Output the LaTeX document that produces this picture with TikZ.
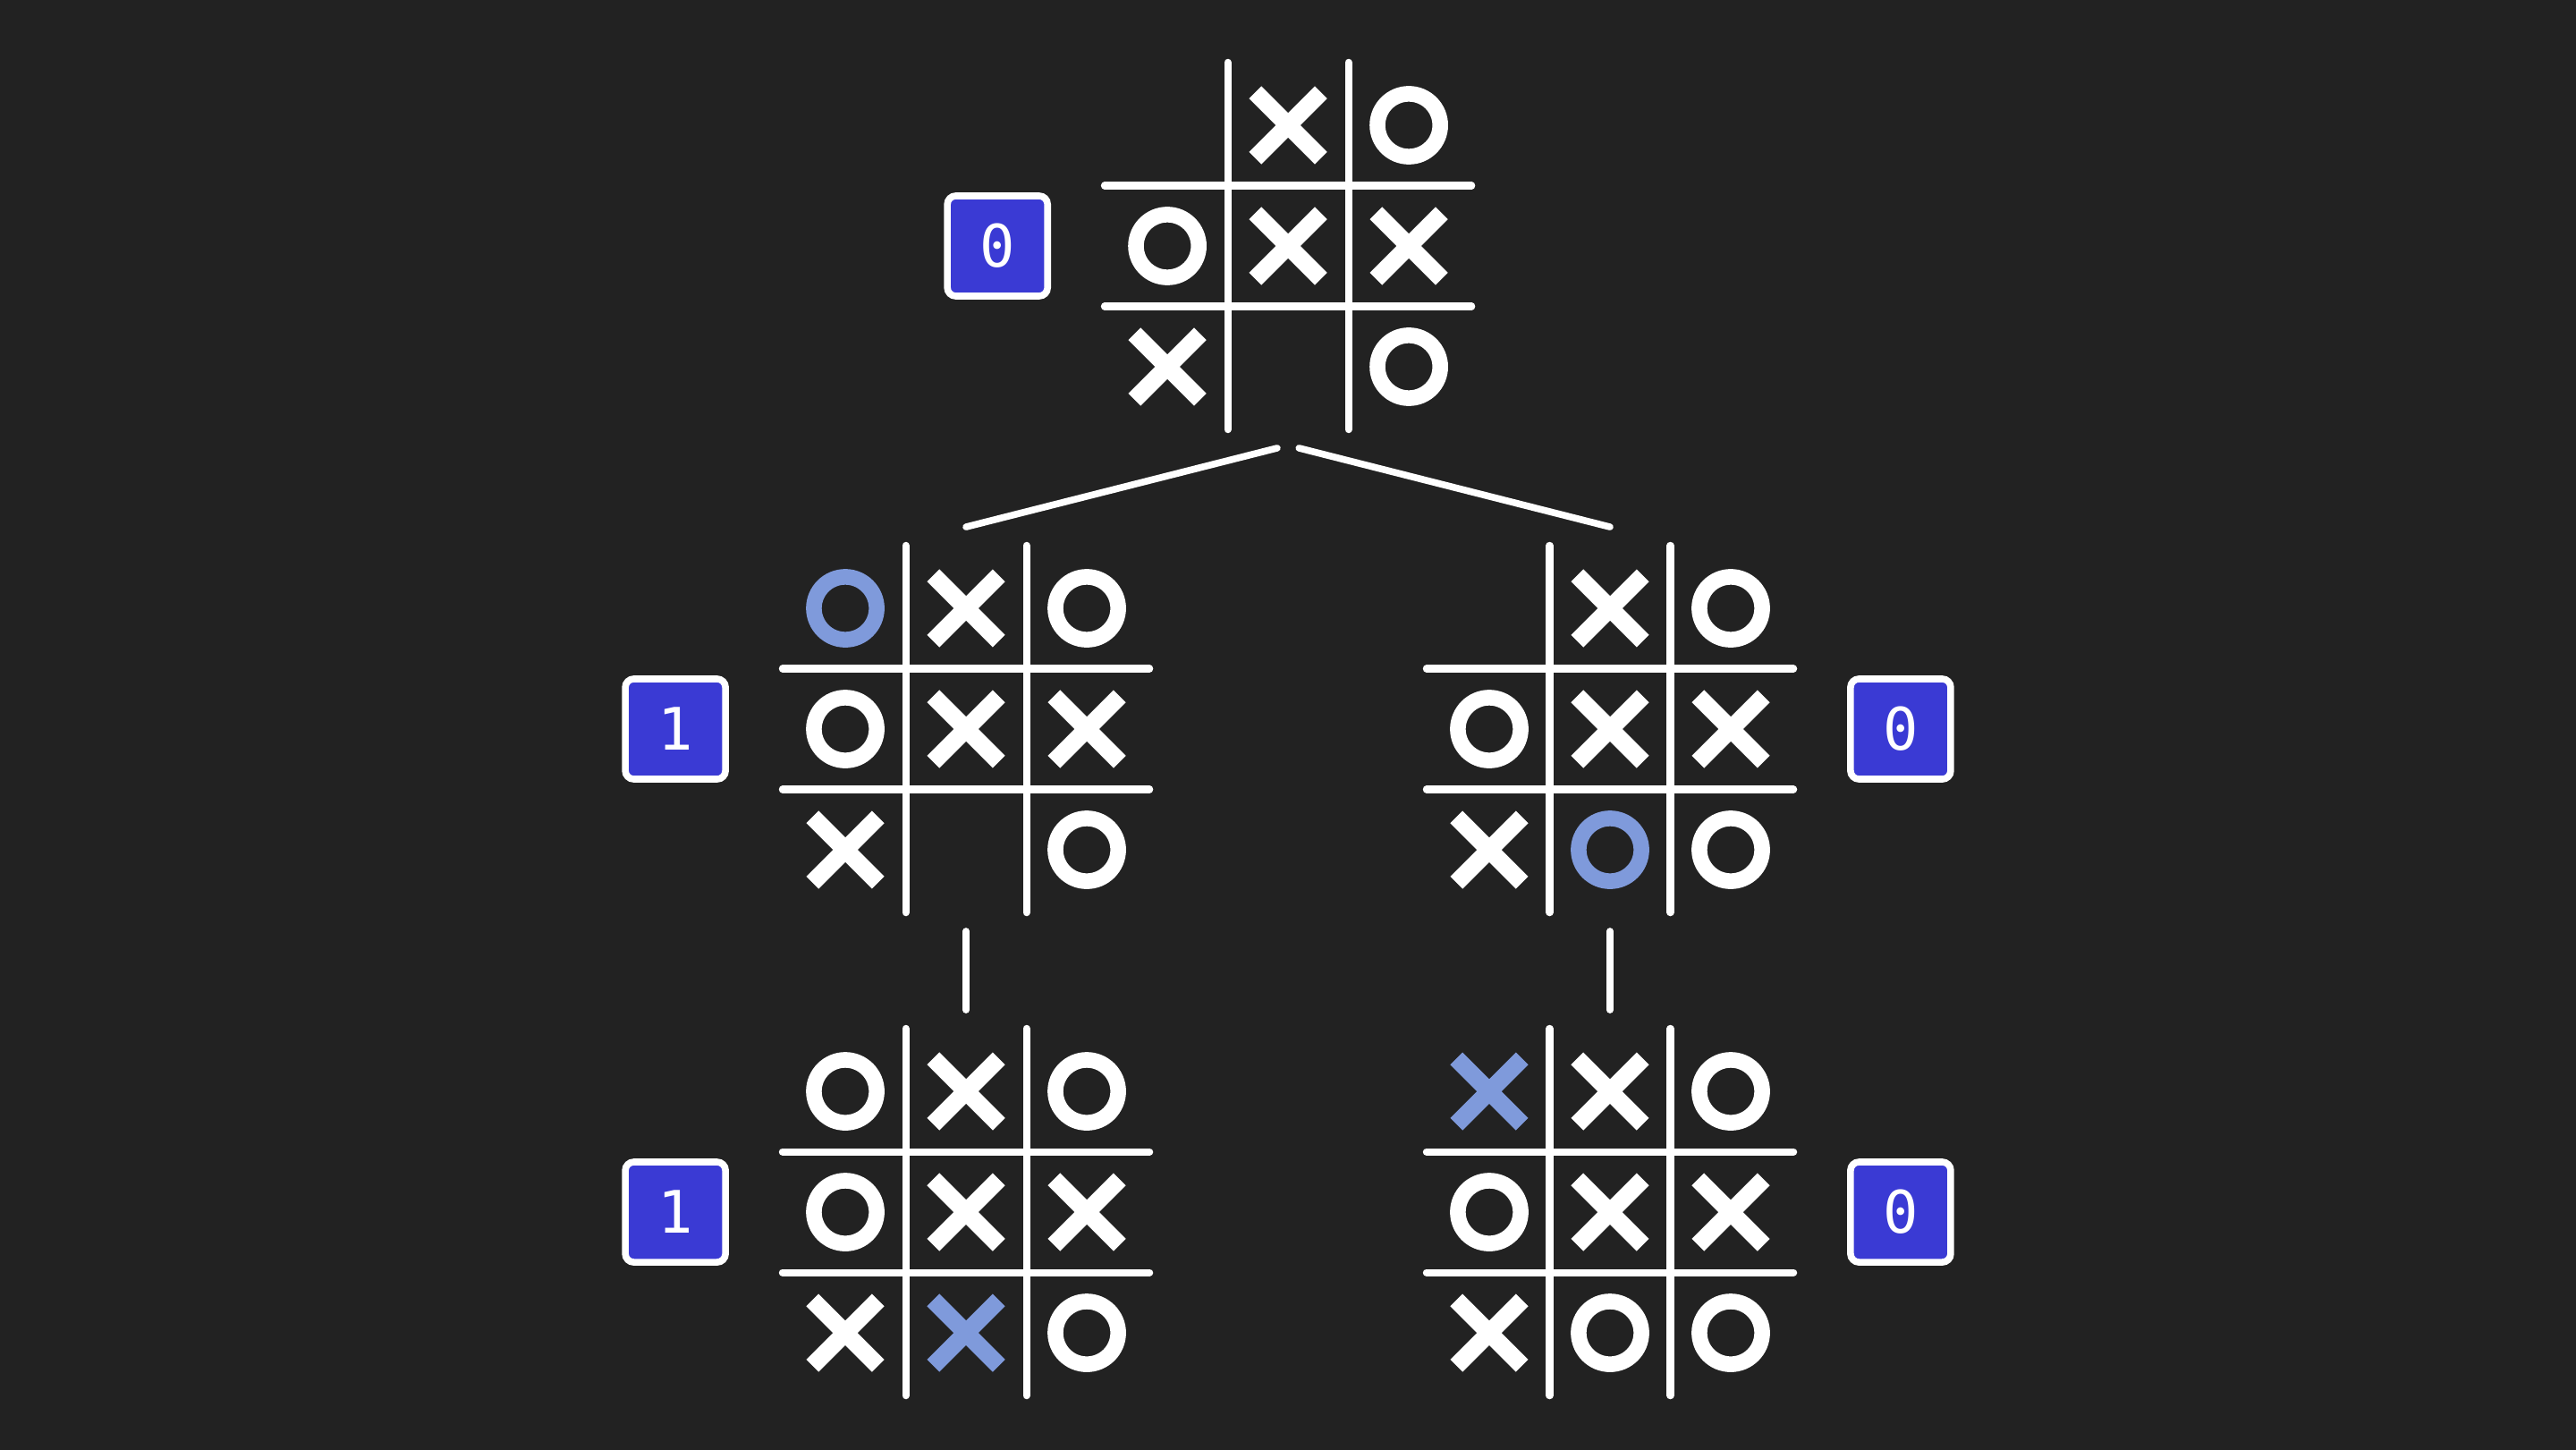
\documentclass[tikz,border=0pt]{standalone}
\usepackage{fontspec}
\setmonofont{DejaVu Sans Mono}
\usetikzlibrary{positioning}
\definecolor{bg}{HTML}{222222}
\definecolor{scoreblue}{HTML}{3A3AD4}
\definecolor{hilite}{HTML}{7F9ADB}
\tikzset{
    gridline/.style={line width=1.7pt, line cap=round},
    edge/.style={white, line width=1.6pt, line cap=round},
    board/.style={minimum size=3.333cm, inner sep=0pt},
    score/.style={draw=white, fill=scoreblue, line width=1.6pt, rounded corners=2pt, minimum size=.83cm, inner sep=0pt, text=white, font=\ttfamily\fontsize{13.8}{14}\selectfont},
    pics/cellx/.style={code={\draw[line width=4.1pt](-.272, -.272)--(.272, .272)(-.272, .272)--(.272, -.272);}},
    pics/cello/.style={code={\draw[line width=3.7pt](0, 0)circle(.26);}},
    pics/cellX/.style={code={\pic[color=hilite]{cellx};}},
    pics/cellO/.style={code={\pic[color=hilite]{cello};}},
    pics/celln/.style={code={}}
}
\newcommand{\tttboard}[3]{%
    \node[board](#1)at#2{};
    \begin{scope}[shift={#2}, white]
        \foreach \k in {-.5, .5}{
            \draw[gridline](\k, -1.52)--(\k, 1.52);
            \draw[gridline](-1.52, \k)--(1.52, \k);
        }
        \foreach \m [count=\i from 0] in {#3}
            \pic at({mod(\i, 3)-1}, {1-int(\i/3)}){cell\m};
    \end{scope}}

\begin{document}
\begin{tikzpicture}
    \useasboundingbox(0, 0)rectangle(21.333, 12);
    \fill[bg](-.1, -.1)rectangle(21.433, 12.1);
    \tttboard{top}{(10.667, 9.963)}{n,x,o,o,x,x,x,n,o}
    \tttboard{midl}{(8, 5.963)}{O,x,o,o,x,x,x,n,o}
    \tttboard{midr}{(13.333, 5.963)}{n,x,o,o,x,x,x,O,o}
    \tttboard{botl}{(8, 1.963)}{o,x,o,o,x,x,x,X,o}
    \tttboard{botr}{(13.333, 1.963)}{X,x,o,o,x,x,x,o,o}
    \node[score, left=.29cm of top](stop){0};
    \node[score, left=.29cm of midl](smidl){1};
    \node[score, right=.29cm of midr](smidr){0};
    \node[score, left=.29cm of botl](sbotl){1};
    \node[score, right=.29cm of botr](sbotr){0};
    \draw[edge]([xshift=-.09cm]top.south)--(midl.north);
    \draw[edge]([xshift=.09cm]top.south)--(midr.north);
    \draw[edge](midl.south)--(botl.north);
    \draw[edge](midr.south)--(botr.north);
\end{tikzpicture}
\end{document}
